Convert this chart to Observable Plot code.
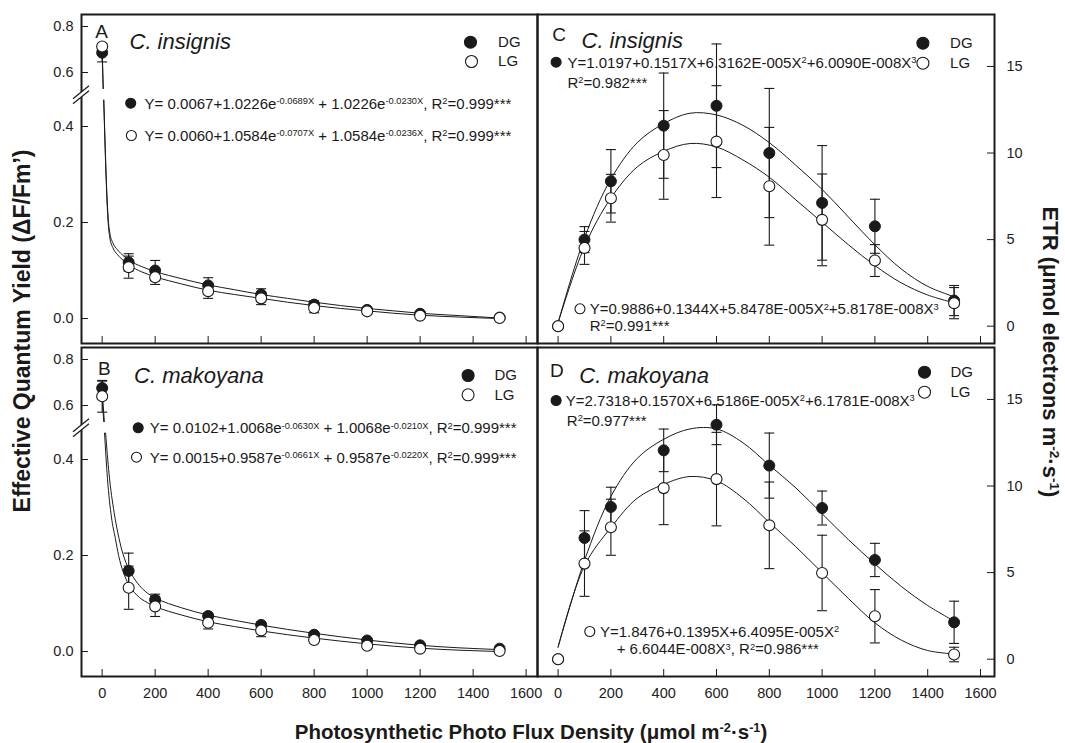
<!DOCTYPE html>
<html>
<head>
<meta charset="utf-8">
<script src="https://cdn.jsdelivr.net/npm/d3@7"></script>
<script src="https://cdn.jsdelivr.net/npm/@observablehq/plot@0.6"></script>
<style>
  html, body { margin: 0; padding: 0; background: #fff; }
  #chart { position: relative; width: 1065px; height: 743px; overflow: hidden; font-family: 'Liberation Sans', Arial, Helvetica, sans-serif; color: #1a1a1a; }
  #chart svg { position: absolute; overflow: visible; }
  .ann { position: absolute; white-space: nowrap; font-size: 15px; line-height: 1; transform: translateY(-50%); }
  .ann sup, .title sup { font-size: 0.62em; line-height: 0; position: relative; top: -0.5em; vertical-align: baseline; }
  .title { position: absolute; white-space: nowrap; font-weight: bold; line-height: 1; }
</style>
</head>
<body>
<div id="chart"></div>
<script>
// ---------------- data ----------------
const ppfd = [0, 100, 200, 400, 600, 800, 1000, 1200, 1500];
const xTicks = [0, 200, 400, 600, 800, 1000, 1200, 1400, 1600];
const yieldTicks = [0, 0.2, 0.4, 0.6, 0.8];
const etrTicks = [0, 5, 10, 15];

// A: C. insignis, effective quantum yield
const yieldInsDG   = [0.686, 0.117, 0.100, 0.069, 0.050, 0.029, 0.018, 0.010, 0.002];
const yieldInsDGsd = [0.040, 0.018, 0.021, 0.016, 0.012, 0.008, 0.004, 0.004, 0.002];
const yieldInsLG   = [0.713, 0.107, 0.086, 0.057, 0.042, 0.022, 0.015, 0.006, 0.001];
const yieldInsLGsd = [0.010, 0.023, 0.015, 0.015, 0.013, 0.010, 0.004, 0.004, 0.002];
const fitYieldInsDG = [[0,0.686],[2,0.60],[4,0.53],[5,0.5],[6,0.455],[10,0.385],[15,0.30],[19,0.246],[24,0.20],[29,0.178],[40,0.158],[58,0.143],[80,0.131],[100,0.122],[150,0.108],[200,0.098],[300,0.083],[400,0.070],[500,0.060],[600,0.050],[700,0.042],[800,0.034],[900,0.027],[1000,0.021],[1100,0.016],[1200,0.011],[1350,0.006],[1500,0.001]];
const fitYieldInsLG = [[0,0.713],[2,0.62],[4,0.53],[5,0.5],[6,0.455],[10,0.375],[15,0.29],[19,0.235],[24,0.19],[29,0.168],[40,0.148],[58,0.133],[80,0.121],[100,0.112],[150,0.097],[200,0.087],[300,0.072],[400,0.059],[500,0.050],[600,0.042],[700,0.034],[800,0.027],[900,0.021],[1000,0.016],[1100,0.011],[1200,0.007],[1350,0.003],[1500,0.0]];

// B: C. makoyana, effective quantum yield
const yieldMakDG   = [0.676, 0.168, 0.1075, 0.074, 0.0555, 0.035, 0.023, 0.013, 0.006];
const yieldMakDGsd = [0.030, 0.037, 0.012, 0.006, 0.006, 0.005, 0.004, 0.003, 0.002];
const yieldMakLG   = [0.640, 0.133, 0.094, 0.060, 0.044, 0.024, 0.012, 0.006, 0.001];
const yieldMakLGsd = [0.069, 0.045, 0.021, 0.013, 0.013, 0.006, 0.005, 0.004, 0.003];
const fitYieldMakDG = [[0,0.676],[4,0.60],[8,0.53],[10,0.5],[13,0.455],[26,0.37],[45,0.29],[60,0.245],[75,0.21],[90,0.185],[110,0.162],[140,0.138],[170,0.122],[200,0.112],[300,0.091],[400,0.076],[500,0.065],[600,0.055],[700,0.046],[800,0.038],[1000,0.024],[1200,0.013],[1500,0.004]];
const fitYieldMakLG = [[0,0.640],[3,0.58],[6,0.53],[7,0.5],[9,0.455],[20,0.36],[35,0.28],[50,0.235],[62,0.20],[80,0.165],[100,0.140],[130,0.118],[170,0.102],[200,0.094],[300,0.076],[400,0.062],[500,0.052],[600,0.043],[700,0.035],[800,0.028],[1000,0.016],[1200,0.007],[1500,0.0]];

// C: C. insignis, ETR
const etrInsDG   = [0, 5.00, 8.37, 11.58, 12.73, 10.00, 7.12, 5.77, 1.48];
const etrInsDGsd = [0, 0.75, 1.83, 3.04, 3.57, 3.73, 3.31, 1.56, 0.87];
const etrInsLG   = [0, 4.52, 7.39, 9.89, 10.66, 8.08, 6.14, 3.79, 1.33];
const etrInsLGsd = [0, 0.95, 1.38, 2.56, 3.23, 3.40, 2.65, 0.92, 0.90];

// D: C. makoyana, ETR
const etrMakDG   = [0, 7.00, 8.79, 12.06, 13.54, 11.18, 8.73, 5.73, 2.13];
const etrMakDGsd = [0, 1.58, 1.14, 1.23, 1.15, 1.88, 0.98, 0.96, 1.22];
const etrMakLG   = [0, 5.52, 7.62, 9.88, 10.40, 7.73, 4.98, 2.48, 0.27];
const etrMakLGsd = [0, 1.89, 1.62, 2.11, 2.70, 2.50, 2.18, 1.54, 0.42];

const etrFitX = [0, 100, 200, 300, 400, 500, 600, 700, 800, 900, 1000, 1100, 1200, 1300, 1400, 1500];
const fitEtrInsDG = [0.2, 5.1, 8.5, 10.6, 11.7, 12.3, 12.2, 11.6, 10.6, 9.3, 7.9, 6.3, 4.7, 3.3, 2.3, 1.7];
const fitEtrInsLG = [0.2, 4.6, 7.4, 9.2, 10.1, 10.55, 10.35, 9.6, 8.6, 7.3, 6.0, 4.7, 3.5, 2.5, 1.8, 1.35];
const fitEtrMakDG = [0.7, 5.7, 9.4, 11.6, 12.7, 13.3, 13.3, 12.5, 11.2, 9.9, 8.4, 6.9, 5.5, 4.2, 3.1, 2.2];
const fitEtrMakLG = [0.7, 5.4, 7.6, 9.3, 10.1, 10.55, 10.3, 9.3, 7.9, 6.5, 5.0, 3.5, 2.1, 1.1, 0.5, 0.3];

// ---------------- helpers ----------------
const INK = "#1a1a1a";
const FONT = "'Liberation Sans', Arial, Helvetica, sans-serif";
const chart = document.getElementById("chart");

// broken y axis for yield panels: lower segment 0..0.455, upper segment 0.53..0.8 compressed
const BRK_LO = 0.455, BRK_HI = 0.53;
const T = v => v <= BRK_LO ? v : (v >= BRK_HI ? 0.5125 + (v - 0.6) * 0.479 : NaN);
const Tid = v => v;

const capSymbol = {
  draw(ctx, size) { const w = Math.sqrt(size / Math.PI); ctx.moveTo(-w, 0); ctx.lineTo(w, 0); }
};

const pts = (vals, sd) => ppfd.map((x, i) => ({x, y: vals[i], sd: sd[i]}));
const zipFit = (xs, ys) => xs.map((x, i) => [x, ys[i]]);

function makePanel(cfg) {
  const {left, top, width, height, margin, xDomain, yDomain, Y, yTickVals, yTickFmt, yAnchor,
         xLabels, dg, lg, fitDG, fitLG, curve, letter, species, legend, bullets, brk} = cfg;
  const fL = left + margin.left, fT = top + margin.top;
  const innerW = width - margin.left - margin.right;
  const innerH = height - margin.top - margin.bottom;
  const errs = [...dg, ...lg].filter(d => d.sd > 0);
  const rel = (x, y) => ({dx: x - fL, dy: y - fT});
  const marks = [
    Plot.line(fitDG, {x: d => d[0], y: d => Y(d[1]), curve, stroke: INK, strokeWidth: 1}),
    Plot.line(fitLG, {x: d => d[0], y: d => Y(d[1]), curve, stroke: INK, strokeWidth: 1}),
    Plot.ruleX(errs, {x: "x", y1: d => Y(d.y - d.sd), y2: d => Y(d.y + d.sd), stroke: INK, strokeWidth: 1.1}),
    Plot.dot(errs, {x: "x", y: d => Y(d.y - d.sd), symbol: capSymbol, r: 5, stroke: INK, fill: "none", strokeWidth: 1.1}),
    Plot.dot(errs, {x: "x", y: d => Y(d.y + d.sd), symbol: capSymbol, r: 5, stroke: INK, fill: "none", strokeWidth: 1.1}),
    Plot.dot(dg, {x: "x", y: d => Y(d.y), r: 5.5, fill: INK, stroke: INK, strokeWidth: 1}),
    Plot.dot(lg, {x: "x", y: d => Y(d.y), r: 5.5, fill: "white", stroke: INK, strokeWidth: 1.1}),
    Plot.tickX(xTicks, {x: d => d, insetTop: innerH - 7, stroke: INK, strokeWidth: 1}),
    Plot.tickY(yTickVals, yAnchor === "left"
      ? {y: d => d, insetRight: innerW - 7, stroke: INK, strokeWidth: 1}
      : {y: d => d, insetLeft: innerW - 7, stroke: INK, strokeWidth: 1}),
    Plot.axisY(yTickVals, {anchor: yAnchor, tickSize: 0, tickPadding: yAnchor === "left" ? 8 : 12,
      tickFormat: yTickFmt, fontSize: 14.5, label: null, fill: "#222"}),
    Plot.frame({stroke: INK, strokeWidth: 2}),
    Plot.text([letter.t], {frameAnchor: "top-left", ...rel(letter.x, letter.y), text: d => d,
      textAnchor: "middle", lineAnchor: "middle", fontSize: 19, fill: INK}),
    Plot.text([species.t], {frameAnchor: "top-left", ...rel(species.x, species.y), text: d => d,
      textAnchor: "start", lineAnchor: "middle", fontSize: 22, fontStyle: "italic", fill: INK}),
  ];
  if (xLabels) marks.push(Plot.axisX(xTicks, {anchor: "bottom", tickSize: 0, tickPadding: 11, fontSize: 14.5,
    label: null, fill: "#222", tickFormat: d => String(d)}));
  for (const e of legend) {
    marks.push(Plot.dot([0], {frameAnchor: "top-left", ...rel(e.dotX, e.y), r: 6,
      fill: e.filled ? INK : "white", stroke: INK, strokeWidth: 1.1}));
    marks.push(Plot.text([e.t], {frameAnchor: "top-left", ...rel(e.textX, e.y), text: d => d,
      textAnchor: "start", lineAnchor: "middle", fontSize: 15, fill: INK}));
  }
  for (const b of bullets) {
    marks.push(Plot.dot([0], {frameAnchor: "top-left", ...rel(b.x, b.y), r: 5,
      fill: b.filled ? INK : "white", stroke: INK, strokeWidth: 1.1}));
  }
  const svg = Plot.plot({
    width, height,
    marginLeft: margin.left, marginRight: margin.right, marginTop: margin.top, marginBottom: margin.bottom,
    style: {fontFamily: FONT, background: "transparent", overflow: "visible", color: INK},
    x: {domain: xDomain, label: null, ...(xLabels ? {} : {axis: null})},
    y: {domain: yDomain, label: null},
    marks
  });
  svg.style.left = left + "px";
  svg.style.top = top + "px";
  chart.appendChild(svg);
  if (brk) {
    const py = svg.scale("y").apply((BRK_LO + 0.479) / 2);
    const x = margin.left;
    const g = d3.select(svg).append("g");
    g.append("path")
      .attr("d", `M${x - 8},${py + 5} L${x + 8},${py - 8} L${x + 8},${py - 3} L${x - 8},${py + 10}Z`)
      .attr("fill", "white");
    g.append("path")
      .attr("d", `M${x - 8},${py + 5} L${x + 8},${py - 8} M${x - 8},${py + 10} L${x + 8},${py - 3}`)
      .attr("stroke", INK).attr("stroke-width", 1.2).attr("fill", "none");
  }
  return svg;
}

const yieldFmt = t => { const v = yieldTicks.find(v => Math.abs(T(v) - t) < 1e-9); return v === undefined ? "" : v.toFixed(1); };

// Panel A
makePanel({
  left: 0, top: 0, width: 545, height: 350, margin: {left: 81, right: 8, top: 14, bottom: 7},
  xDomain: [-78, 1643], yDomain: [-0.052, 0.6333], Y: T,
  yTickVals: yieldTicks.map(T), yTickFmt: yieldFmt, yAnchor: "left", xLabels: false,
  dg: pts(yieldInsDG, yieldInsDGsd), lg: pts(yieldInsLG, yieldInsLGsd),
  fitDG: fitYieldInsDG, fitLG: fitYieldInsLG, curve: "monotone-x",
  letter: {t: "A", x: 101, y: 31.5}, species: {t: "C. insignis", x: 129, y: 41},
  legend: [{t: "DG", filled: true, dotX: 470, textX: 497.6, y: 41.7}, {t: "LG", filled: false, dotX: 471, textX: 497.6, y: 61}],
  bullets: [{x: 130.2, y: 102.7, filled: true}, {x: 130.9, y: 135, filled: false}],
  brk: true
});

// Panel B
makePanel({
  left: 0, top: 340, width: 545, height: 360, margin: {left: 81, right: 8, top: 7, bottom: 24},
  xDomain: [-78, 1643], yDomain: [-0.052, 0.6333], Y: T,
  yTickVals: yieldTicks.map(T), yTickFmt: yieldFmt, yAnchor: "left", xLabels: true,
  dg: pts(yieldMakDG, yieldMakDGsd), lg: pts(yieldMakLG, yieldMakLGsd),
  fitDG: fitYieldMakDG, fitLG: fitYieldMakLG, curve: "monotone-x",
  letter: {t: "B", x: 103.8, y: 368.3}, species: {t: "C. makoyana", x: 133.6, y: 375},
  legend: [{t: "DG", filled: true, dotX: 467.6, textX: 494, y: 375}, {t: "LG", filled: false, dotX: 467.6, textX: 494, y: 394.3}],
  bullets: [{x: 137.7, y: 427.3, filled: true}, {x: 136, y: 456.7, filled: false}],
  brk: true
});

// Panel C
makePanel({
  left: 530, top: 0, width: 535, height: 350, margin: {left: 7, right: 71, top: 14, bottom: 7},
  xDomain: [-78, 1653], yDomain: [-1, 18], Y: Tid,
  yTickVals: etrTicks, yTickFmt: d => String(d), yAnchor: "right", xLabels: false,
  dg: pts(etrInsDG, etrInsDGsd), lg: pts(etrInsLG, etrInsLGsd),
  fitDG: zipFit(etrFitX, fitEtrInsDG), fitLG: zipFit(etrFitX, fitEtrInsLG), curve: "catmull-rom",
  letter: {t: "C", x: 558.5, y: 34}, species: {t: "C. insignis", x: 581, y: 40},
  legend: [{t: "DG", filled: true, dotX: 922.4, textX: 949.6, y: 42.7}, {t: "LG", filled: false, dotX: 922.4, textX: 949.6, y: 62.7}],
  bullets: [{x: 555.6, y: 61.7, filled: true}, {x: 579.5, y: 308.3, filled: false}],
  brk: false
});

// Panel D
makePanel({
  left: 530, top: 340, width: 535, height: 360, margin: {left: 7, right: 71, top: 7, bottom: 24},
  xDomain: [-78, 1653], yDomain: [-1, 18], Y: Tid,
  yTickVals: etrTicks, yTickFmt: d => String(d), yAnchor: "right", xLabels: true,
  dg: pts(etrMakDG, etrMakDGsd), lg: pts(etrMakLG, etrMakLGsd),
  fitDG: zipFit(etrFitX, fitEtrMakDG), fitLG: zipFit(etrFitX, fitEtrMakLG), curve: "catmull-rom",
  letter: {t: "D", x: 556.4, y: 370.5}, species: {t: "C. makoyana", x: 578.8, y: 375},
  legend: [{t: "DG", filled: true, dotX: 924, textX: 950, y: 371.7}, {t: "LG", filled: false, dotX: 924, textX: 950, y: 391.7}],
  bullets: [{x: 555.6, y: 400, filled: true}, {x: 589.3, y: 631, filled: false}],
  brk: false
});

// ---------------- equations & titles ----------------
function ann(html, x, cy) {
  const d = document.createElement("div");
  d.className = "ann";
  d.innerHTML = html;
  d.style.left = x + "px";
  d.style.top = cy + "px";
  chart.appendChild(d);
}
ann("Y= 0.0067+1.0226e<sup>-0.0689X</sup> + 1.0226e<sup>-0.0230X</sup>, R<sup>2</sup>=0.999***", 144.6, 102.7);
ann("Y= 0.0060+1.0584e<sup>-0.0707X</sup> + 1.0584e<sup>-0.0236X</sup>, R<sup>2</sup>=0.999***", 144.6, 135);
ann("Y= 0.0102+1.0068e<sup>-0.0630X</sup> + 1.0068e<sup>-0.0210X</sup>, R<sup>2</sup>=0.999***", 149.8, 427.3);
ann("Y= 0.0015+0.9587e<sup>-0.0661X</sup> + 0.9587e<sup>-0.0220X</sup>, R<sup>2</sup>=0.999***", 149.8, 456.7);
ann("Y=1.0197+0.1517X+6.3162E-005X<sup>2</sup>+6.0090E-008X<sup>3</sup>", 567.5, 61.7);
ann("R<sup>2</sup>=0.982***", 567.5, 81.7);
ann("Y=0.9886+0.1344X+5.8478E-005X<sup>2</sup>+5.8178E-008X<sup>3</sup>", 589.7, 308.3);
ann("R<sup>2</sup>=0.991***", 589.7, 325);
ann("Y=2.7318+0.1570X+6.5186E-005X<sup>2</sup>+6.1781E-008X<sup>3</sup>", 565.8, 400);
ann("R<sup>2</sup>=0.977***", 566.8, 420);
ann("Y=1.8476+0.1395X+6.4095E-005X<sup>2</sup>", 600, 631);
ann("+ 6.6044E-008X<sup>3</sup>, R<sup>2</sup>=0.986***", 616.7, 648.3);

function title(html, cx, cy, size, rot) {
  const d = document.createElement("div");
  d.className = "title";
  d.innerHTML = html;
  d.style.left = cx + "px";
  d.style.top = cy + "px";
  d.style.fontSize = size + "px";
  d.style.transform = `translate(-50%, -50%) rotate(${rot}deg)`;
  chart.appendChild(d);
}
title("Effective Quantum Yield (ΔF/Fm’)", 22.4, 331, 23, -90);
title("ETR (μmol electrons m<sup>-2</sup>·s<sup>-1</sup>)", 1050, 351.5, 22, 90);
title("Photosynthetic Photo Flux Density (μmol m<sup>-2</sup>·s<sup>-1</sup>)", 531, 731.5, 20.5, 0);
</script>
</body>
</html>
